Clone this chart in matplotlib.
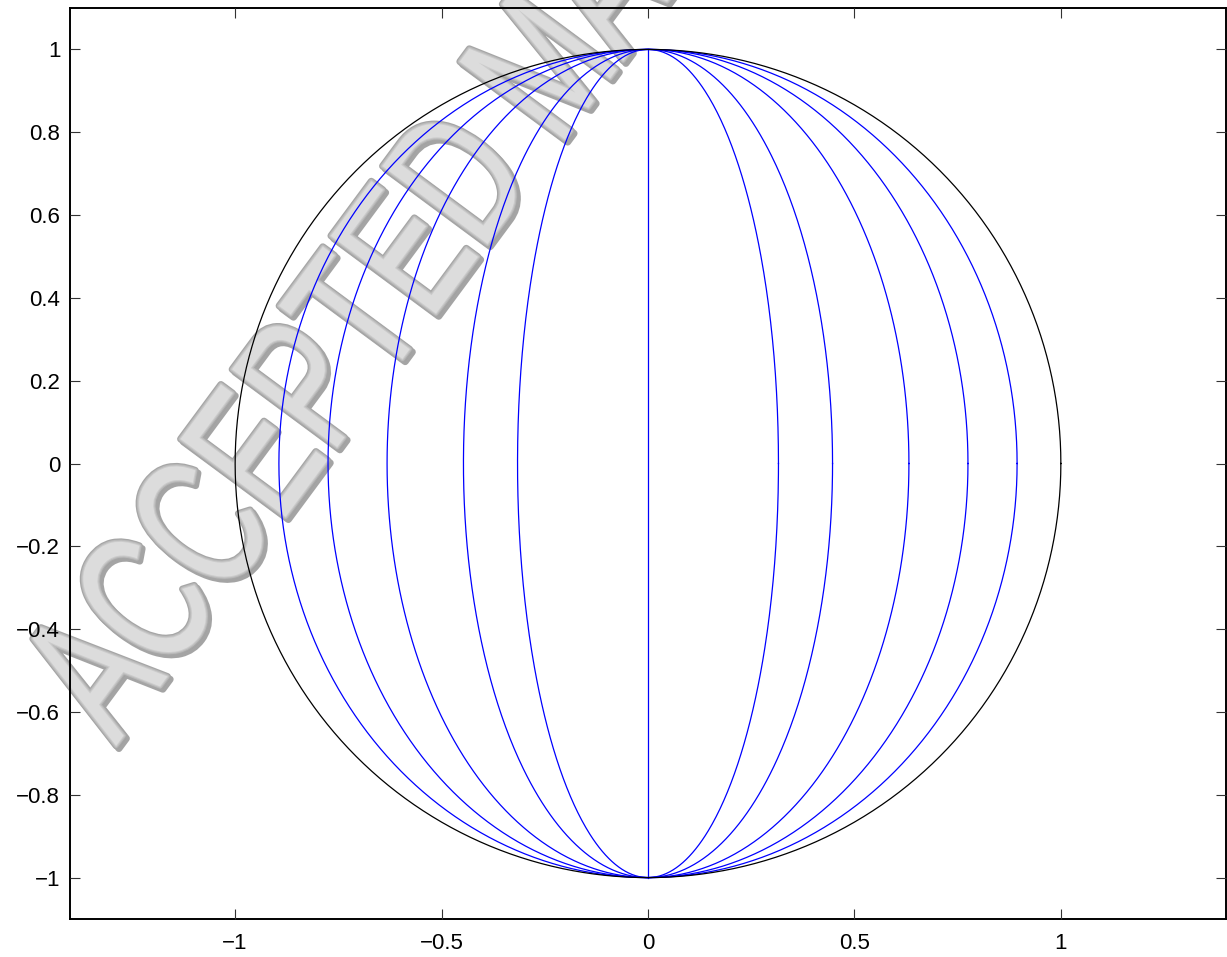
import numpy as np
import matplotlib
matplotlib.use("Agg")
import matplotlib.pyplot as plt
import matplotlib.patheffects as pe
from matplotlib.textpath import TextPath
from matplotlib.font_manager import FontProperties
from matplotlib.patches import PathPatch
from matplotlib.transforms import Affine2D

plt.rcParams['font.family'] = ['Liberation Sans', 'DejaVu Sans']

# Meridian semi-axes (x half-width of each ellipse; y half-height is 1)
meridian_widths = [0.316, 0.447, 0.632, 0.775, 0.894]
circle_radius = 1.0
x_ticks = [-1, -0.5, 0, 0.5, 1]
x_ticklabels = ['\u22121', '\u22120.5', '0', '0.5', '1']
y_ticks = [-1, -0.8, -0.6, -0.4, -0.2, 0, 0.2, 0.4, 0.6, 0.8, 1]
y_ticklabels = ['\u22121', '\u22120.8', '\u22120.6', '\u22120.4', '\u22120.2',
                '0', '0.2', '0.4', '0.6', '0.8', '1']
stamp_text = 'ACCEPTED MANUSCRIPT'

W, H, DPI = 1227, 957, 100
fig = plt.figure(figsize=(W / DPI, H / DPI), dpi=DPI)
ax = fig.add_axes([70 / W, 38 / H, 1156 / W, 911 / H])

t = np.linspace(0, 2 * np.pi, 721)
for a in meridian_widths:
    ax.plot(a * np.cos(t), np.sin(t), color='#0000ff', lw=0.9, zorder=3)
ax.plot([0, 0], [-1, 1], color='#0000ff', lw=0.9, zorder=3)
ax.plot(circle_radius * np.cos(t), circle_radius * np.sin(t),
        color='black', lw=0.9, zorder=3)

ax.set_xlim(-1.4, 1.4)
ax.set_ylim(-1.1, 1.1)
ax.set_xticks(x_ticks)
ax.set_xticklabels(x_ticklabels)
ax.set_yticks(y_ticks)
ax.set_yticklabels(y_ticklabels)
ax.tick_params(direction='in', length=7.5, width=0.8, color='#333333',
               top=True, right=True, labelsize=16)
ax.tick_params(axis='x', pad=10)
ax.tick_params(axis='y', pad=7)
ax.xaxis.set_zorder(2.5)
ax.yaxis.set_zorder(2.5)
for s in ax.spines.values():
    s.set_linewidth(1.4)

# Diagonal embossed stamp (drawn in pixel space, condensed along the baseline),
# kept beneath tick labels, spines and curves
tp = TextPath((0, 0), stamp_text, size=1,
              prop=FontProperties(family='Liberation Sans'))
stamp_tf = (Affine2D().scale(130, 190).rotate_deg(53.5)
            .translate(116, H - 746))
stamp = PathPatch(tp, transform=stamp_tf, facecolor='#dcdcdc',
                  edgecolor='none', clip_on=False, zorder=1.2)
stamp.set_path_effects([
    pe.Stroke(offset=(2, -2), linewidth=5, foreground='#8e8e8e',
              alpha=0.8, joinstyle='round'),
    pe.Stroke(linewidth=5, foreground='#a6a6a6', joinstyle='round'),
    pe.Stroke(linewidth=3.2, foreground='#bababa', joinstyle='round'),
    pe.Stroke(linewidth=1.5, foreground='#cbcbcb', joinstyle='round'),
    pe.Normal(),
])
ax.add_artist(stamp)

fig.savefig('out.png', dpi=DPI)
